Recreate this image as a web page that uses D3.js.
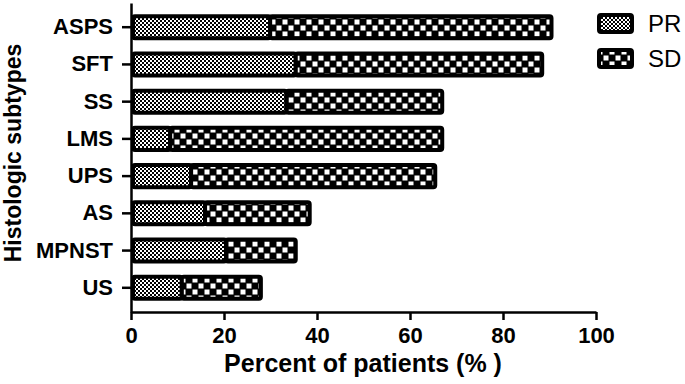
<!DOCTYPE html>
<html>
<head>
<meta charset="utf-8">
<script src="https://cdn.jsdelivr.net/npm/d3@7"></script>
<style>
  body { margin: 0; background: #fff; }
  svg { display: block; font-family: "Liberation Sans", Arial, sans-serif; }
</style>
</head>
<body>
<script>
(function (d3) {
  'use strict';

  // data
  const subtypes = ["ASPS", "SFT", "SS", "LMS", "UPS", "AS", "MPNST", "US"];
  const prValues = [29.5, 35, 33, 8, 12.5, 15.5, 20, 10.5];
  const sdValues = [60.5, 53, 33.5, 58.5, 52.5, 22.5, 15, 17];
  const xTicks = [0, 20, 40, 60, 80, 100];
  const seriesNames = ["PR", "SD"];

  const W = 685, H = 384;

  const svg = d3.select("body").append("svg")
    .attr("width", W)
    .attr("height", H);

  // patterns
  const defs = svg.append("defs");
  const pr = defs.append("pattern")
    .attr("id", "patPR")
    .attr("patternUnits", "userSpaceOnUse")
    .attr("width", 4).attr("height", 4);
  pr.append("rect").attr("width", 4).attr("height", 4).attr("fill", "#fff");
  pr.append("rect").attr("width", 2).attr("height", 2).attr("fill", "#000");
  pr.append("rect").attr("x", 2).attr("y", 2).attr("width", 2).attr("height", 2).attr("fill", "#000");

  const sd = defs.append("pattern")
    .attr("id", "patSD")
    .attr("patternUnits", "userSpaceOnUse")
    .attr("width", 12).attr("height", 12)
    .attr("y", 1);
  sd.append("rect").attr("width", 12).attr("height", 12).attr("fill", "#000");
  sd.append("rect").attr("x", 0.5).attr("y", 0.5).attr("width", 5).attr("height", 5).attr("fill", "#fff");
  sd.append("rect").attr("x", 6.5).attr("y", 6.5).attr("width", 5).attr("height", 5).attr("fill", "#fff");

  const fills = { PR: "url(#patPR)", SD: "url(#patSD)" };

  // scales
  const x = d3.scaleLinear().domain([0, 100]).range([131, 596]);
  const y = d3.scaleBand().domain(subtypes).range([3, 312]).padding(0.3);

  const rows = subtypes.map((s, i) => ({ name: s, PR: prValues[i], SD: sdValues[i] }));
  const stacked = d3.stack().keys(seriesNames)(rows);

  const sw = 4;
  // bars
  svg.append("g")
    .selectAll("g")
    .data(stacked)
    .join("g")
      .attr("fill", d => fills[d.key])
    .selectAll("rect")
    .data(d => d)
    .join("rect")
      .attr("x", d => x(d[0]) + sw / 2)
      .attr("y", d => y(d.data.name) + sw / 2)
      .attr("width", d => Math.max(0, x(d[1]) - x(d[0])))
      .attr("height", y.bandwidth() - sw)
      .attr("rx", 2)
      .attr("stroke", "#000")
      .attr("stroke-width", sw);

  // x axis
  const xAxis = svg.append("g")
    .attr("transform", "translate(0,312)")
    .call(d3.axisBottom(x).tickValues(xTicks).tickSize(8).tickSizeOuter(0).tickPadding(7));
  xAxis.selectAll("text")
    .attr("font-size", 22).attr("font-weight", "bold")
    .attr("font-family", "Liberation Sans, Arial, sans-serif")
    .attr("fill", "#000");
  xAxis.selectAll("line, path").attr("stroke", "#000").attr("stroke-width", 2.5);

  // y axis
  const yAxis = svg.append("g")
    .attr("transform", "translate(131,0)")
    .call(d3.axisLeft(y).tickSize(9).tickSizeOuter(0).tickPadding(9));
  yAxis.selectAll("text")
    .attr("font-size", 22).attr("font-weight", "bold")
    .attr("font-family", "Liberation Sans, Arial, sans-serif")
    .attr("fill", "#000");
  yAxis.selectAll("line, path").attr("stroke", "#000").attr("stroke-width", 2.5);

  // axis titles
  svg.append("text")
    .attr("x", 363).attr("y", 372)
    .attr("text-anchor", "middle")
    .attr("font-size", 25).attr("font-weight", "bold")
    .text("Percent of patients (% )");

  svg.append("text")
    .attr("transform", "translate(21,153) rotate(-90)")
    .attr("text-anchor", "middle")
    .attr("font-size", 23).attr("font-weight", "bold")
    .text("Histologic subtypes");

  // legend
  const legend = svg.append("g")
    .selectAll("g")
    .data(seriesNames)
    .join("g")
      .attr("transform", (d, i) => `translate(597,${13 + i * 35})`);
  legend.append("rect")
    .attr("x", 2).attr("y", 2)
    .attr("width", 33).attr("height", 17)
    .attr("rx", 2)
    .attr("fill", d => fills[d])
    .attr("stroke", "#000")
    .attr("stroke-width", 4);
  legend.append("text")
    .attr("x", 51).attr("y", 19)
    .attr("font-size", 24)
    .text(d => d);
}(d3));
</script>
</body>
</html>
